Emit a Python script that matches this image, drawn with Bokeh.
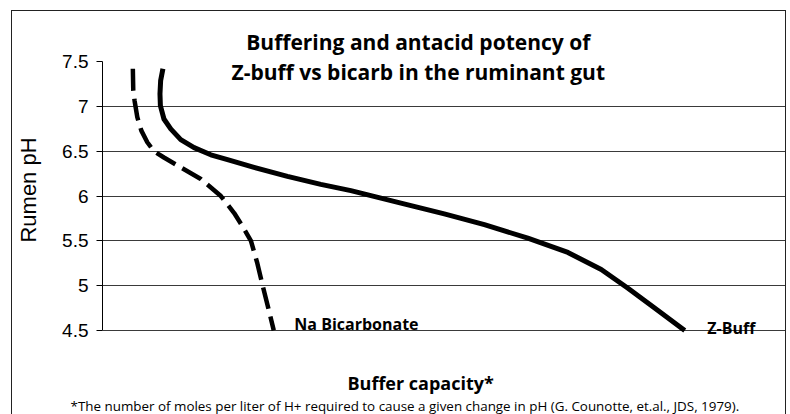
from bokeh.plotting import figure
from bokeh.models import FixedTicker, Label, Range1d, Title
from bokeh.embed import file_html
from bokeh.resources import INLINE

# ---- data ----
zbuff_x = [8.82, 8.49, 8.39, 8.45, 8.97, 9.96, 11.42, 13.37, 15.81, 18.5, 22.12, 27.00,
           31.87, 36.26, 43.57, 49.90, 55.75, 62.09, 67.94, 72.81, 76.71, 80.60, 85.0]
zbuff_ph = [7.42, 7.29, 7.14, 7.01, 6.86, 6.75, 6.63, 6.54, 6.46, 6.40, 6.32, 6.22,
            6.13, 6.06, 5.92, 5.80, 5.68, 5.53, 5.37, 5.18, 4.97, 4.75, 4.50]

bicarb_x = [4.43, 4.49, 4.69, 5.08, 5.67, 6.54, 7.51, 8.97, 11.42, 14.35, 17.28, 19.22,
            20.45, 21.67, 22.6, 23.35, 24.2, 25.0]
bicarb_ph = [7.42, 7.18, 7.06, 6.88, 6.73, 6.60, 6.50, 6.43, 6.32, 6.19, 6.00, 5.81,
             5.66, 5.50, 5.25, 5.01, 4.75, 4.50]

y_ticks = [4.5, 5, 5.5, 6, 6.5, 7, 7.5]
y_tick_labels = ["4.5", "5", "5.5", "6", "6.5", "7", "7.5"]
grid_ticks = [4.5, 5, 5.5, 6, 6.5, 7]

title_lines = ["Buffering and antacid potency of", "Z-buff vs bicarb in the ruminant gut"]
series_names = ["Na Bicarbonate", "Z-Buff"]
x_title = "Buffer capacity*"
footnote = ("*The number of moles per liter of H+ required to cause a given change in pH "
            "(G. Counotte, et.al., JDS, 1979).")

BOLD = "Open Sans"

p = figure(width=775, height=404, output_backend="svg", toolbar_location=None,
           x_axis_location=None,
           x_range=Range1d(0, 100), y_range=Range1d(4.0745, 8.06),
           min_border_left=90, min_border_right=0, min_border_top=0, min_border_bottom=47,
           styles={"border-top": "1px solid #222", "border-left": "1px solid #222",
                   "border-right": "1px solid #222", "margin-left": "11px", "margin-top": "10px"})
p.outline_line_color = None
p.background_fill_color = "white"
p.border_fill_color = "white"
p.xgrid.visible = False

yax = p.yaxis[0]
yax.ticker = FixedTicker(ticks=y_ticks)
yax.major_label_overrides = {t: l for t, l in zip(y_ticks, y_tick_labels)}
yax.bounds = (4.5, 7.5)
yax.axis_line_color = "black"
yax.major_tick_line_color = "black"
yax.major_tick_out = 6
yax.major_tick_in = 0
yax.minor_tick_line_color = None
yax.major_label_standoff = 8
yax.major_label_text_font = "Liberation Sans"
yax.major_label_text_font_size = "19px"
yax.major_label_text_color = "black"
yax.axis_label = "Rumen pH"
yax.axis_label_text_font = "Liberation Sans"
yax.axis_label_text_font_size = "22px"
yax.axis_label_text_font_style = "normal"
yax.axis_label_text_color = "black"
yax.axis_label_standoff = 18

p.ygrid.ticker = FixedTicker(ticks=grid_ticks)
p.ygrid.grid_line_color = "#3a3a3a"
p.ygrid.grid_line_width = 1

p.line(bicarb_x, bicarb_ph, line_color="black", line_width=4.5, line_dash="22 8",
       line_join="round")
p.line(zbuff_x, zbuff_ph, line_color="black", line_width=5, line_join="round")

def lab(x, y, text, size, style="bold", align="center"):
    p.add_layout(Label(x=x, y=y, text=text, text_font=BOLD, text_font_size=size,
                       text_font_style=style, text_align=align, text_baseline="alphabetic",
                       text_color="black"))

lab(46.1, 7.72, title_lines[0], "21px")
lab(46.1, 7.39, title_lines[1], "21px")
lab(28.0, 4.57, series_names[0], "16px", align="left")
lab(88.3, 4.53, series_names[1], "16px", align="left")

p.add_layout(Title(text=x_title, align="left", offset=245, standoff=0,
                   text_font=BOLD, text_font_size="18px", text_font_style="bold",
                   text_color="black"), "below")
p.add_layout(Title(text=footnote, align="left", offset=-32, standoff=0,
                   text_font=BOLD, text_font_size="13.4px", text_font_style="normal",
                   text_color="black"), "below")

open("out.html", "w").write(file_html(p, INLINE))
